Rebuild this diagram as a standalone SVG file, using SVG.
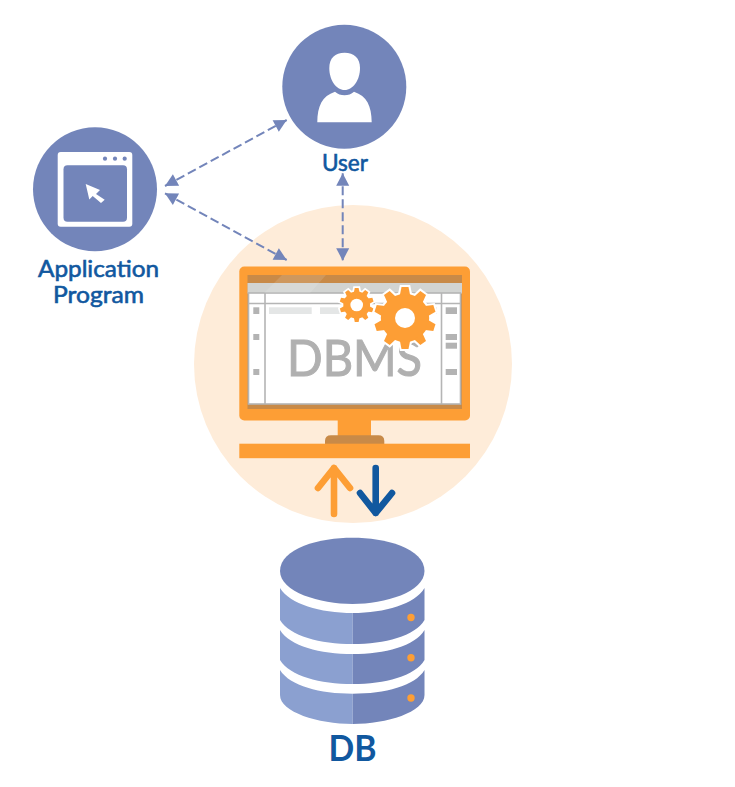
<svg xmlns="http://www.w3.org/2000/svg" xmlns:xlink="http://www.w3.org/1999/xlink" width="735" height="787" viewBox="0 0 735 787">
  <style>
    .lbl { font-family: "Lato", "Open Sans", sans-serif; fill: #11589f; font-weight: 400; text-anchor: middle; stroke: #11589f; stroke-width: 0.6; }
    .cir { fill: #7385ba; }
    .wh { fill: #ffffff; }
    .org { fill: #fd9e35; }
    .brn { fill: #c88a48; }
    .gr { fill: #b3b3b3; }
    .lg { fill: #e4e6e6; }
    .dash { fill: none; stroke: #7385ba; stroke-width: 2; stroke-dasharray: 9 4; marker-start: url(#head); marker-end: url(#head); }
    .lt { fill: #8ba0d0; }
    .dk { fill: #7385ba; }
  </style>
  <defs>
    <marker id="head" markerUnits="userSpaceOnUse" markerWidth="14" markerHeight="14" viewBox="0 0 14 14" refX="13" refY="7" orient="auto-start-reverse">
      <path d="M0.5 0.5 L13 7 L0.5 13.5 Z" fill="#7385ba"/>
    </marker>
    <path id="tooth" d="M-5 -22 L-3.4 -30 L3.4 -30 L5 -22 Z"/>
    <g id="gear">
      <circle r="23.5"/>
      <use href="#tooth"/>
      <use href="#tooth" transform="rotate(36)"/>
      <use href="#tooth" transform="rotate(72)"/>
      <use href="#tooth" transform="rotate(108)"/>
      <use href="#tooth" transform="rotate(144)"/>
      <use href="#tooth" transform="rotate(180)"/>
      <use href="#tooth" transform="rotate(216)"/>
      <use href="#tooth" transform="rotate(252)"/>
      <use href="#tooth" transform="rotate(288)"/>
      <use href="#tooth" transform="rotate(324)"/>
    </g>
  </defs>
  <rect width="735" height="787" fill="#ffffff"/>

  <g id="dbms">
    <circle cx="353" cy="364" r="159" fill="#feecd9"/>
    <rect class="org" x="239.3" y="266.5" width="230.7" height="154" rx="5"/>
    <rect class="brn" x="247.5" y="275" width="214.5" height="134"/>
    <rect x="247.5" y="283" width="214.5" height="10.5" fill="#d2d4d2"/>
    <rect x="248.5" y="293" width="212" height="111" fill="#ffffff" stroke="#b5b5b5" stroke-width="1.6"/>
    <path d="M265 293V404M441.5 293V404M248.5 303.5H441.5M441.5 303.5H460.5" stroke="#b5b5b5" stroke-width="1.6" fill="none"/>
    <path d="M282 275H326L310 293H264Z" fill="#ffffff" opacity="0.12"/>
    <rect class="lg" x="269" y="307.3" width="42.7" height="6.7"/>
    <rect class="lg" x="320" y="307.3" width="20" height="6.7"/>
    <rect class="lg" x="430" y="307.3" width="7" height="6.7"/>
    <rect class="gr" x="253.3" y="307.3" width="6" height="6.7"/>
    <rect class="gr" x="253.3" y="334" width="6" height="6"/>
    <rect class="gr" x="253.3" y="369" width="6" height="6"/>
    <rect class="gr" x="445.7" y="307.3" width="11.3" height="6.7"/>
    <rect class="gr" x="445.7" y="334" width="11.3" height="6"/>
    <rect class="gr" x="445.7" y="342.7" width="11.3" height="6"/>
    <rect class="gr" x="445.7" y="369" width="11.3" height="6"/>
    <text x="354.5" y="375.7" font-family="Lato, 'Open Sans', sans-serif" font-size="50" fill="#b0b0b0" text-anchor="middle" textLength="135" lengthAdjust="spacingAndGlyphs" stroke="#b0b0b0" stroke-width="1.1">DBMS</text>
    <g id="gear-small">
      <use href="#gear" transform="translate(356.7 305) scale(0.57)" fill="#ffffff" stroke="#ffffff" stroke-width="6"/>
      <use href="#gear" transform="translate(356.7 305) scale(0.57)" fill="#fd9e35"/>
      <circle class="wh" cx="356.7" cy="305" r="6.3"/>
    </g>
    <g id="gear-large">
      <use href="#gear" transform="translate(405 318) scale(1.03)" fill="#ffffff" stroke="#ffffff" stroke-width="4"/>
      <use href="#gear" transform="translate(405 318) scale(1.03)" fill="#fd9e35"/>
      <circle class="wh" cx="405" cy="318" r="10"/>
    </g>
    <rect class="org" x="337.7" y="420" width="33.3" height="17"/>
    <path class="brn" d="M325 444V441Q325 435.3 331 435.3H378.3Q384.3 435.3 384.3 441V444Z"/>
    <rect class="org" x="239.3" y="443.7" width="230.7" height="14.5"/>
  </g>

  <g id="connectors">
    <path class="dash" d="M165 186L286.7 120"/>
    <path class="dash" d="M165 193.3L286.7 260"/>
    <path class="dash" d="M342.7 173.3V260.7"/>
    <path d="M334 514V468M318 488L334 468L350 488" fill="none" stroke="#fd9e35" stroke-width="6.6" stroke-linecap="round" stroke-linejoin="round"/>
    <path d="M375.7 468V513M360 493L375.7 513L392 493" fill="none" stroke="#11589f" stroke-width="6.6" stroke-linecap="round" stroke-linejoin="round"/>
  </g>

  <g id="user">
    <circle class="cir" cx="344.3" cy="86.7" r="62"/>
    <path class="wh" d="M344.6 52.7C354 52.7 360 58 360 68C360 80 353 90 344.6 90C336 90 329.3 80 329.3 68C329.3 58 335 52.7 344.6 52.7Z"/>
    <path class="wh" d="M317.3 122.3C317.5 106 322 96 335 91.7C340 96.5 349 96.5 354 91.7C367 96 371.5 106 371.7 122.3Z"/>
    <text class="lbl" x="345" y="171" font-size="23" textLength="46" lengthAdjust="spacingAndGlyphs">User</text>
  </g>

  <g id="application-program">
    <circle class="cir" cx="95" cy="189.3" r="62"/>
    <rect class="wh" x="57.7" y="152" width="74.6" height="74.7" rx="3"/>
    <rect class="cir" x="63.5" y="165.3" width="63.5" height="56.4" rx="4"/>
    <circle class="cir" cx="105" cy="158.7" r="2.1"/>
    <circle class="cir" cx="115" cy="158.7" r="2.1"/>
    <circle class="cir" cx="124.7" cy="158.7" r="2.1"/>
    <path class="wh" d="M85.7 184L100 190L96 194L104.7 199.8L101 203L92.7 196L89.3 199.5Z"/>
    <text class="lbl" x="98.5" y="277" font-size="23" textLength="121" lengthAdjust="spacingAndGlyphs">Application</text>
    <text class="lbl" x="98.5" y="303" font-size="23" textLength="91" lengthAdjust="spacingAndGlyphs">Program</text>
  </g>

  <g id="db">
    <path class="lt" d="M280 588C290 604 320 613 352.7 613V644C320 644 290 636 280 620Z"/>
    <path class="dk" d="M424.5 588C415 604 385 613 352.7 613V644C385 644 415 636 424.5 620Z"/>
    <path class="lt" d="M280 630C290 646 320 654 352.7 654V684C320 684 290 676 280 660Z"/>
    <path class="dk" d="M424.5 630C415 646 385 654 352.7 654V684C385 684 415 676 424.5 660Z"/>
    <path class="lt" d="M280 670C290 686 320 693.7 352.7 693.7V724C318 724 280 712 280 695Z"/>
    <path class="dk" d="M424.5 670C415 686 385 693.7 352.7 693.7V724C387 724 424.5 712 424.5 695Z"/>
    <path class="dk" d="M280 571C280 548 320 537.7 352.5 537.7C385 537.7 424.5 548 424.5 571C424.5 592 385 604 352.5 604C320 604 280 592 280 571Z"/>
    <circle class="org" cx="411" cy="617.5" r="3.7"/>
    <circle class="org" cx="411" cy="657.7" r="3.7"/>
    <circle class="org" cx="411" cy="698" r="3.7"/>
    <text x="352.5" y="761" font-family="Lato, 'Open Sans', sans-serif" font-size="37" font-weight="700" fill="#11589f" text-anchor="middle" textLength="48" lengthAdjust="spacingAndGlyphs">DB</text>
  </g>
</svg>
